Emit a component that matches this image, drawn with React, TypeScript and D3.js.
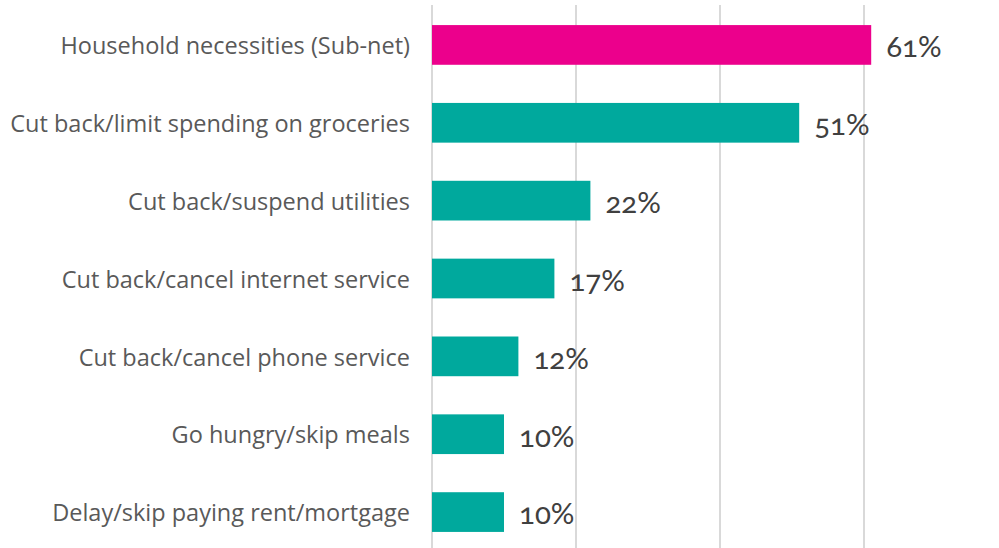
import React, { useRef, useEffect } from "react";
import * as d3 from "d3";

const categories = [
  "Household necessities (Sub-net)",
  "Cut back/limit spending on groceries",
  "Cut back/suspend utilities",
  "Cut back/cancel internet service",
  "Cut back/cancel phone service",
  "Go hungry/skip meals",
  "Delay/skip paying rent/mortgage",
];
const values = [61, 51, 22, 17, 12, 10, 10];
const barColors = ["#EC008C", "#00A99D", "#00A99D", "#00A99D", "#00A99D", "#00A99D", "#00A99D"];
const gridTicks = [0, 20, 40, 60, 80];

function App() {
  const ref = useRef<SVGSVGElement>(null);

  useEffect(() => {
    const [width, height] = [999, 548];
    const svg = d3.select(ref.current);
    svg.selectAll("*").remove();

    const x = d3.scaleLinear().domain([0, 80]).range([432, 1008]);
    const y = d3
      .scaleBand()
      .domain(categories)
      .range([6, 551])
      .paddingInner(0.49)
      .paddingOuter(0.245);

    // gridlines
    svg
      .append("g")
      .selectAll("line")
      .data(gridTicks)
      .join("line")
      .attr("x1", (d) => x(d))
      .attr("x2", (d) => x(d))
      .attr("y1", 5)
      .attr("y2", height)
      .attr("stroke", "#d9d9d9")
      .attr("stroke-width", 2);

    const rows = categories.map((c, i) => ({ c, v: values[i], color: barColors[i] }));

    svg
      .append("g")
      .selectAll("rect")
      .data(rows)
      .join("rect")
      .attr("x", x(0))
      .attr("y", (d) => y(d.c)!)
      .attr("width", (d) => x(d.v) - x(0))
      .attr("height", y.bandwidth())
      .attr("fill", (d) => d.color);

    // category labels
    svg
      .append("g")
      .selectAll("text")
      .data(rows)
      .join("text")
      .attr("x", 410)
      .attr("y", (d) => y(d.c)! + y.bandwidth() / 2 + 1)
      .attr("dy", "0.35em")
      .attr("text-anchor", "end")
      .attr("fill", "#595959")
      .attr("font-family", "'Open Sans', sans-serif")
      .attr("font-size", 23.5)
      .text((d) => d.c);

    // value labels
    svg
      .append("g")
      .selectAll("text")
      .data(rows)
      .join("text")
      .attr("x", (d) => x(d.v) + 15)
      .attr("y", (d) => y(d.c)! + y.bandwidth() / 2 + 2)
      .attr("dy", "0.35em")
      .attr("fill", "#404040")
      .attr("font-family", "Lato, 'Open Sans', sans-serif")
      .attr("font-size", 29.5)
      .style("font-variant-numeric", "oldstyle-nums")
      .text((d) => d.v + "%");

    svg.attr("width", width).attr("height", height);
  }, []);

  return (
    <svg
      ref={ref}
      style={{ position: "absolute", left: 0, top: 0, display: "block" }}
    />
  );
}

export default App;
